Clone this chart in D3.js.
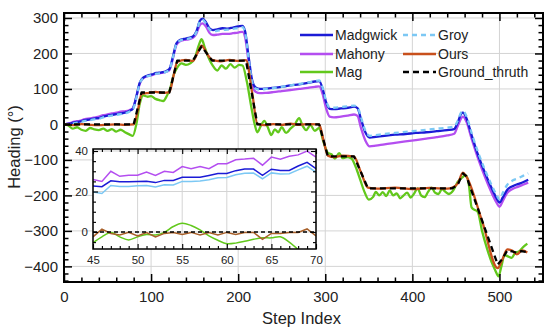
<!DOCTYPE html>
<html>
<head>
<meta charset="utf-8">
<script src="https://cdn.jsdelivr.net/npm/d3@7"></script>
<style>
  body { margin: 0; background: #fff; }
  svg { font-family: "Liberation Sans", Arial, sans-serif; }
</style>
</head>
<body>
<script>
// ---- data ----
var xTicks = [0, 100, 200, 300, 400, 500];
var yTicks = [-400, -300, -200, -100, 0, 100, 200, 300];
var insetXTicks = [45, 50, 55, 60, 65, 70];
var insetYTicks = [0, 20, 40];

var seriesNames = ["Madgwick", "Mahony", "Mag", "Groy", "Ours", "Ground_thruth"];

var madgwick = [[0,0],[6,2],[12,6],[18,8],[24,12],[30,14],[36,17],[40,18],[45,22],[50,25],[55,27],[60,29],[65,31],[70,33],[75,38],[79,44],[83,78],[87,118],[91,132],[96,138],[101,141],[106,145],[112,147],[117,150],[121,156],[125,190],[129,228],[133,238],[138,241],[143,244],[148,248],[152,262],[156,292],[159,298],[163,288],[167,271],[171,266],[176,268],[182,271],[188,270],[194,273],[200,276],[205,278],[208,262],[212,190],[216,125],[220,104],[225,100],[232,101],[240,103],[250,106],[260,110],[270,113],[280,117],[288,121],[293,122],[297,100],[301,62],[305,44],[310,43],[318,45],[326,47],[333,50],[337,46],[341,15],[346,-22],[351,-37],[358,-35],[368,-32],[380,-29],[392,-27],[404,-24],[416,-22],[428,-19],[440,-16],[448,-13],[452,5],[456,30],[458,33],[462,18],[468,-30],[476,-90],[484,-140],[492,-185],[497,-210],[500,-220],[504,-205],[509,-184],[515,-174],[521,-168],[527,-163],[533,-156]];

var mahony = [[0,0],[6,3],[12,8],[18,10],[24,15],[30,17],[36,20],[40,22],[45,26],[50,28],[55,31],[60,33],[65,36],[70,37],[75,40],[79,46],[83,76],[87,115],[91,130],[96,136],[101,139],[106,143],[112,145],[117,148],[121,153],[125,185],[129,224],[133,234],[138,238],[143,240],[148,244],[152,256],[156,280],[159,285],[163,276],[167,258],[171,252],[176,253],[182,255],[188,255],[194,257],[200,259],[205,261],[208,245],[212,175],[216,112],[220,92],[225,88],[232,89],[240,91],[250,94],[260,97],[270,100],[280,103],[288,106],[293,107],[297,85],[301,45],[305,22],[310,20],[318,22],[326,25],[333,28],[337,24],[341,-10],[346,-45],[351,-62],[358,-60],[368,-56],[380,-52],[392,-48],[404,-44],[416,-40],[428,-36],[440,-31],[448,-26],[452,-5],[456,17],[458,22],[462,8],[468,-40],[476,-100],[484,-152],[492,-198],[497,-222],[500,-232],[504,-215],[509,-193],[515,-182],[521,-176],[527,-170],[533,-164]];

var groy = [[0,-1],[6,0],[12,4],[18,6],[24,10],[30,12],[36,15],[40,16],[45,20],[50,23],[55,25],[60,27],[65,29],[70,31],[75,36],[79,42],[83,74],[87,116],[91,130],[96,136],[101,139],[106,143],[112,145],[117,148],[121,154],[125,188],[129,226],[133,236],[138,240],[143,242],[148,246],[152,260],[156,290],[159,295],[163,284],[167,268],[171,262],[176,264],[182,266],[188,267],[194,269],[200,272],[205,274],[208,258],[212,185],[216,120],[220,101],[225,98],[232,100],[240,102],[250,106],[260,110],[270,114],[280,118],[288,122],[293,124],[297,103],[301,66],[305,48],[310,47],[318,49],[326,51],[333,53],[337,50],[341,20],[346,-17],[351,-32],[358,-30],[368,-27],[380,-24],[392,-21],[404,-18],[416,-15],[428,-12],[440,-9],[448,-6],[452,10],[456,34],[458,38],[462,24],[468,-24],[476,-82],[484,-132],[492,-176],[497,-200],[500,-212],[504,-192],[509,-170],[515,-158],[521,-152],[527,-145],[533,-138]];

var mag = [[0,0],[5,-3],[10,-12],[15,-8],[20,-15],[25,-18],[30,-10],[35,-14],[40,-16],[45,-12],[50,-18],[55,-13],[60,-20],[65,-15],[70,-22],[75,-28],[79,-32],[83,0],[87,58],[91,82],[96,78],[100,80],[105,72],[110,68],[114,66],[118,80],[122,102],[126,140],[130,160],[135,172],[140,168],[145,172],[150,186],[155,225],[158,240],[162,214],[166,188],[171,165],[176,152],[181,166],[186,157],[191,170],[196,160],[201,168],[205,166],[210,120],[215,50],[219,0],[222,-22],[226,-4],[230,10],[234,-8],[238,-30],[242,-14],[246,-22],[250,-8],[255,-24],[260,-12],[265,0],[270,18],[274,-4],[278,-16],[283,-2],[288,-18],[293,-10],[298,-50],[303,-80],[307,-84],[311,-96],[316,-81],[320,-95],[325,-92],[330,-96],[335,-120],[340,-155],[345,-190],[350,-212],[355,-204],[358,-190],[362,-200],[366,-191],[370,-202],[374,-186],[378,-200],[382,-194],[386,-208],[390,-200],[394,-192],[398,-206],[402,-195],[406,-180],[410,-200],[414,-205],[418,-190],[422,-178],[426,-192],[430,-196],[434,-182],[438,-190],[442,-196],[447,-186],[452,-162],[457,-150],[461,-143],[465,-172],[468,-234],[471,-240],[475,-246],[480,-300],[486,-352],[491,-388],[495,-410],[499,-428],[502,-402],[506,-368],[510,-372],[514,-376],[518,-362],[523,-357],[527,-346],[532,-336]];

var ours = [[0,0],[10,-2],[20,1],[30,-1],[40,-2],[50,-1],[60,0],[70,-1],[80,0],[85,42],[89,86],[95,88],[105,92],[115,89],[121,91],[126,140],[130,176],[140,182],[148,179],[153,200],[158,222],[164,200],[170,182],[180,178],[190,182],[200,179],[209,181],[216,90],[222,2],[230,-2],[240,1],[250,-1],[260,2],[270,-1],[280,1],[293,0],[298,-45],[303,-88],[310,-92],[320,-88],[333,-91],[341,-135],[349,-178],[360,-181],[380,-178],[400,-182],[420,-179],[440,-181],[446,-178],[452,-167],[458,-136],[462,-147],[480,-272],[498,-405],[503,-382],[509,-352],[515,-356],[520,-366],[526,-355],[532,-361]];

var truth = [[0,0],[80,0],[89,90],[121,90],[130,180],[148,180],[158,220],[170,180],[209,180],[222,0],[293,0],[303,-90],[333,-90],[349,-180],[446,-180],[452,-170],[458,-138],[462,-146],[498,-395],[503,-380],[509,-355],[515,-358],[520,-362],[525,-357],[532,-360]];

// inset, steps 45..70
var insetSteps = [45,46,47,48,49,50,51,52,53,54,55,56,57,58,59,60,61,62,63,64,65,66,67,68,69,70];
var insetMadgwick = [22.7,22.4,25.3,24.8,24.8,25,25.1,24.4,25.5,25.5,27,27,27,27.9,28.9,28.9,30.3,31.1,31.1,28,31,30.4,30.4,32.6,34.4,31.3];
var insetMahony = [26,25,30,27.5,28,28,29.6,27.9,30,29.4,32.3,31.3,32.3,31.3,33.7,33.7,35.7,36,36.4,33,37,36,37.4,38.1,40,37];
var insetGroy = [19.8,19,23,22.5,22.5,22.8,23,22.2,23.3,23.2,25,25,25.2,25.8,26.8,26.9,28.3,29,29.1,26.3,29.2,28.7,28.8,30.7,32.5,29.5];
var insetMag = [-5.3,-2.4,-0.3,-2.4,-3.9,-2.4,-1.2,-1.5,-0.2,2.7,4.3,3.2,1,-1.9,-4.1,-5.8,-5.5,-4.6,-3.6,-2.9,-2.9,-2.4,-5,-8.7,-13,-18];
var insetOurs = [-2.4,1.4,-0.7,-1.5,-0.2,-1.9,-0.3,-2.4,-0.7,-0.2,-1.2,-0.2,-1.5,-0.3,-1.5,-0.2,-1.2,-0.2,-0.2,-3.6,-0.7,-0.7,-0.2,-0.2,1.5,-1.9];
var insetTruth = [0,0,0,0,0,0,0,0,0,0,0,0,0,0,0,0,0,0,0,0,0,0,0,0,0,0];

// ---- layout ----
var W = 550, H = 332;
var m = {left: 64, top: 13, right: 7, bottom: 50};
var pw = W - m.left - m.right, ph = H - m.top - m.bottom;

var colors = {
  "Madgwick": "#1b1bd6",
  "Mahony": "#b44ef0",
  "Mag": "#62c81c",
  "Groy": "#7cc8f4",
  "Ours": "#c8501c",
  "Ground_thruth": "#000000"
};
var dashes = {"Groy": "5,4", "Ground_thruth": "6,4"};

var svg = d3.select("body").append("svg")
  .attr("width", W).attr("height", H);

var x = d3.scaleLinear().domain([0, 550]).range([m.left, m.left + pw]);
var y = d3.scaleLinear().domain([-444, 314]).range([m.top + ph, m.top]);

svg.append("clipPath").attr("id", "clipMain")
  .append("rect").attr("x", m.left).attr("y", m.top).attr("width", pw).attr("height", ph);

// grid
var grid = svg.append("g").attr("stroke", "#d4d4d4").attr("stroke-width", 1);
xTicks.forEach(function(t) {
  grid.append("line").attr("x1", x(t)).attr("x2", x(t)).attr("y1", m.top).attr("y2", m.top + ph);
});
yTicks.forEach(function(t) {
  grid.append("line").attr("x1", m.left).attr("x2", m.left + pw).attr("y1", y(t)).attr("y2", y(t));
});

var line = d3.line().x(function(d) { return x(d[0]); }).y(function(d) { return y(d[1]); })
  .curve(d3.curveMonotoneX);
var lineLin = d3.line().x(function(d) { return x(d[0]); }).y(function(d) { return y(d[1]); });

var plot = svg.append("g").attr("clip-path", "url(#clipMain)");
var mainSeries = [
  ["Mahony", mahony], ["Madgwick", madgwick], ["Groy", groy],
  ["Mag", mag], ["Ours", ours], ["Ground_thruth", truth]
];
mainSeries.forEach(function(s) {
  plot.append("path")
    .attr("d", s[0] == "Ground_thruth" ? lineLin(s[1]) : line(s[1]))
    .attr("fill", "none")
    .attr("stroke", colors[s[0]])
    .attr("stroke-width", 2.3)
    .attr("stroke-dasharray", dashes[s[0]] || null)
    .attr("stroke-linejoin", "round");
});

// axes, ticks pointing inwards on all four sides
function drawAxes(g, xs, ys, xt, yt, xMinor, yMinor, major, minor, fs, pad, bw) {
  var x0 = xs.range()[0], x1 = xs.range()[1], y0 = ys.range()[0], y1 = ys.range()[1];
  var fmt = d3.format("");
  g.append("g").attr("transform", "translate(0," + y0 + ")")
    .call(d3.axisBottom(xs).tickValues(xMinor).tickSizeInner(-minor).tickSizeOuter(0).tickFormat(""));
  g.append("g").attr("transform", "translate(0," + y0 + ")")
    .call(d3.axisBottom(xs).tickValues(xt).tickSizeInner(-major).tickSizeOuter(0).tickPadding(pad[0]).tickFormat(fmt));
  g.append("g").attr("transform", "translate(0," + y1 + ")")
    .call(d3.axisTop(xs).tickValues(xMinor).tickSizeInner(-minor).tickSizeOuter(0).tickFormat(""));
  g.append("g").attr("transform", "translate(0," + y1 + ")")
    .call(d3.axisTop(xs).tickValues(xt).tickSizeInner(-major).tickSizeOuter(0).tickFormat(""));
  g.append("g").attr("transform", "translate(" + x0 + ",0)")
    .call(d3.axisLeft(ys).tickValues(yMinor).tickSizeInner(-minor).tickSizeOuter(0).tickFormat(""));
  g.append("g").attr("transform", "translate(" + x0 + ",0)")
    .call(d3.axisLeft(ys).tickValues(yt).tickSizeInner(-major).tickSizeOuter(0).tickPadding(pad[1]).tickFormat(fmt));
  g.append("g").attr("transform", "translate(" + x1 + ",0)")
    .call(d3.axisRight(ys).tickValues(yMinor).tickSizeInner(-minor).tickSizeOuter(0).tickFormat(""));
  g.append("g").attr("transform", "translate(" + x1 + ",0)")
    .call(d3.axisRight(ys).tickValues(yt).tickSizeInner(-major).tickSizeOuter(0).tickFormat(""));
  g.selectAll(".domain").remove();
  g.selectAll(".tick line").attr("stroke", "#000").attr("stroke-width", bw * 0.75);
  g.selectAll(".tick text").attr("font-size", fs).attr("fill", "#222")
    .attr("font-family", "'Liberation Sans', Arial, sans-serif");
  g.append("rect").attr("x", x0).attr("y", y1).attr("width", x1 - x0).attr("height", y0 - y1)
    .attr("fill", "none").attr("stroke", "#000").attr("stroke-width", bw);
}

var xMinorMain = d3.range(0, 551, 20).filter(function(v) { return v % 100 != 0; });
var yMinorMain = d3.range(-440, 314, 20).filter(function(v) { return v % 100 != 0; });
drawAxes(svg.append("g"), x, y, xTicks, yTicks, xMinorMain, yMinorMain, 8, 4.5, "15px", [9, 6], 2);

// axis titles
svg.append("text").attr("x", x(275) - 2).attr("y", 324)
  .attr("text-anchor", "middle").attr("font-size", "16.5px").attr("fill", "#222")
  .text("Step Index");
svg.append("text").attr("transform", "translate(20," + (m.top + 134) + ") rotate(-90)")
  .attr("text-anchor", "middle").attr("font-size", "16.5px").attr("fill", "#222")
  .text("Heading (°)");

// legend
var legend = [
  ["Madgwick", 300, 35], ["Mahony", 300, 54], ["Mag", 300, 72],
  ["Groy", 403, 35], ["Ours", 403, 54], ["Ground_thruth", 403, 72]
];
legend.forEach(function(l) {
  svg.append("line").attr("x1", l[1]).attr("x2", l[1] + 33).attr("y1", l[2]).attr("y2", l[2])
    .attr("stroke", colors[l[0]]).attr("stroke-width", 2.3)
    .attr("stroke-dasharray", dashes[l[0]] || null);
  svg.append("text").attr("x", l[1] + 35).attr("y", l[2] + 5)
    .attr("font-size", "14px").attr("fill", "#222").text(l[0]);
});

// ---- inset ----
var ix = d3.scaleLinear().domain([45, 70]).range([93, 316]);
var iy = d3.scaleLinear().domain([-8.4, 41]).range([249, 149]);

svg.append("rect").attr("x", 93).attr("y", 149).attr("width", 223).attr("height", 100).attr("fill", "#fff");
svg.append("clipPath").attr("id", "clipInset")
  .append("rect").attr("x", 93).attr("y", 149).attr("width", 223).attr("height", 100);

var igrid = svg.append("g").attr("stroke", "#d4d4d4").attr("stroke-width", 1);
insetXTicks.forEach(function(t) {
  igrid.append("line").attr("x1", ix(t)).attr("x2", ix(t)).attr("y1", 149).attr("y2", 249);
});
insetYTicks.forEach(function(t) {
  igrid.append("line").attr("x1", 93).attr("x2", 316).attr("y1", iy(t)).attr("y2", iy(t));
});

var iline = d3.line().x(function(d) { return ix(d[0]); }).y(function(d) { return iy(d[1]); });
var ismooth = d3.line().x(function(d) { return ix(d[0]); }).y(function(d) { return iy(d[1]); })
  .curve(d3.curveCatmullRom);
var iplot = svg.append("g").attr("clip-path", "url(#clipInset)");
var insetSeries = [
  ["Mahony", insetMahony], ["Groy", insetGroy], ["Madgwick", insetMadgwick],
  ["Mag", insetMag], ["Ours", insetOurs], ["Ground_thruth", insetTruth]
];
insetSeries.forEach(function(s) {
  var pts = insetSteps.map(function(st, i) { return [st, s[1][i]]; });
  iplot.append("path")
    .attr("d", s[0] == "Mag" ? ismooth(pts) : iline(pts))
    .attr("fill", "none")
    .attr("stroke", s[0] == "Ours" ? "#a8602a" : colors[s[0]])
    .attr("stroke-width", s[0] == "Ground_thruth" ? 1.6 : 1.5)
    .attr("stroke-dasharray", s[0] == "Ground_thruth" ? "4,3" : null);
});

drawAxes(svg.append("g"), ix, iy, insetXTicks, insetYTicks,
  d3.range(45, 71, 1).filter(function(v) { return v % 5 != 0; }),
  d3.range(-5, 41, 5).filter(function(v) { return v % 20 != 0; }),
  5, 3, "11.5px", [7, 5], 1.5);
</script>
</body>
</html>
